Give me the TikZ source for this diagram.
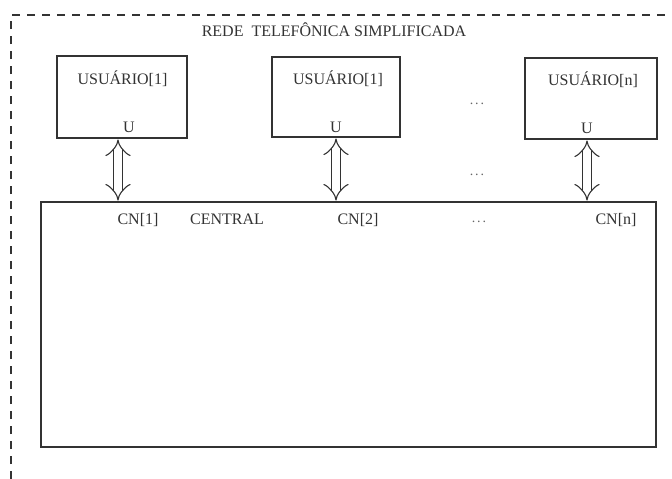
\documentclass[tikz,border=0pt]{standalone}
\usepackage{fontspec}
\setmainfont{Liberation Serif}
\usetikzlibrary{arrows.meta}
\definecolor{ink}{gray}{0.2}
\tikzset{
  every node/.style={inner sep=0pt, outer sep=0pt},
  txt/.style={text=ink, font=\fontsize{16}{18}\selectfont},
  dotstxt/.style={text=ink!75, font=\fontsize{14}{16}\selectfont},
  userbox/.style={draw=ink, line width=1.3pt, rectangle},
  border/.style={draw=ink, line width=1.2pt, dash pattern=on 8pt off 7pt},
  link/.style={draw=ink, line width=1.1pt, double=white, double distance=8pt,
    {Implies[length=10pt]}-{Implies[length=10pt]}, shorten <=1.5pt, shorten >=1.5pt}
}
\begin{document}
\begin{tikzpicture}[x=1pt,y=-1pt]
\useasboundingbox (0,0) rectangle (672,479);
\fill[white] (0,0) rectangle (672,479);
% outer dashed frame (left and top only)
\coordinate (fa) at (11,479);
\coordinate (fb) at (11,15);
\coordinate (fc) at (672,15);
\draw[border] (fa) -- (fb) -- (fc);
\node[txt] (title) at (334,30) {REDE\hspace{4pt} TELEFÔNICA SIMPLIFICADA};
% user boxes
\node[userbox, minimum width=130pt, minimum height=82pt] (b1) at (122,97) {};
\node[userbox, minimum width=128pt, minimum height=80pt] (b2) at (336,97) {};
\node[userbox, minimum width=132pt, minimum height=81pt] (b3) at (591,98.5) {};
\node[txt] (u1) at (122.5,79) {USUÁRIO[1]};
\node[txt] (u2) at (338,79) {USUÁRIO[1]};
\node[txt] (u3) at (593,80) {USUÁRIO[n]};
\node[txt] (p1) at (129,127) {U};
\node[txt] (p2) at (336,127) {U};
\node[txt] (p3) at (587,128) {U};
% central
\node[userbox, minimum width=615pt, minimum height=245pt] (c) at (348.5,324.5) {};
\node[txt] (cn1) at (138,220) {CN[1]};
\node[txt] (cen) at (227,219) {CENTRAL};
\node[txt] (cn2) at (358,220) {CN[2]};
\node[txt] (cnn) at (616,220) {CN[n]};
\node[dotstxt, anchor=base] (d1) at (477,104) {.\kern2pt.\kern2pt.};
\node[dotstxt, anchor=base] (d2) at (477,175) {.\kern2pt.\kern2pt.};
\node[dotstxt, anchor=base] (d3) at (479,222) {.\kern2pt.\kern2pt.};
% links
\coordinate (a1) at (118,138);
\coordinate (a2) at (336,137);
\coordinate (a3) at (587,139);
\draw[link] (a1) -- (a1 |- c.north);
\draw[link] (a2) -- (a2 |- c.north);
\draw[link] (a3) -- (a3 |- c.north);
\end{tikzpicture}
\end{document}
